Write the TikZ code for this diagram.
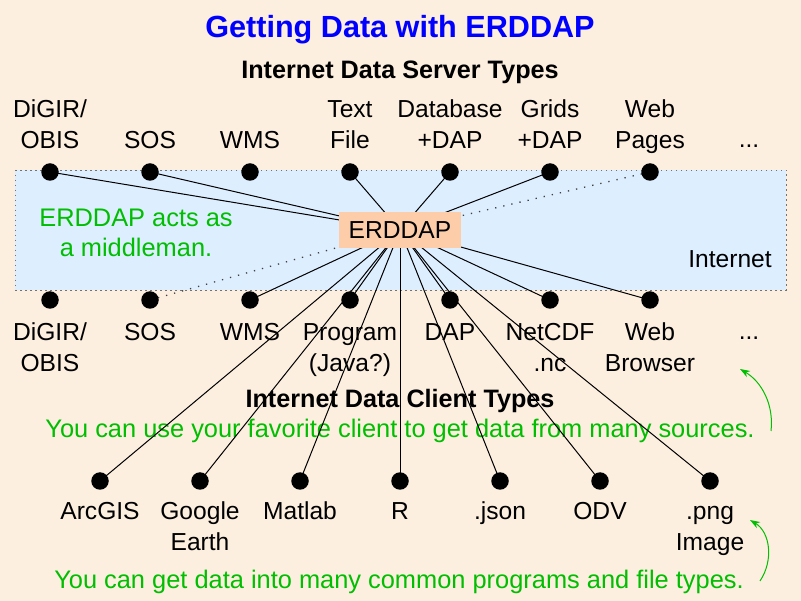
\documentclass[tikz,border=0pt]{standalone}
\usepackage{fontspec}
\setmainfont{Liberation Sans}
\usetikzlibrary{arrows.meta}
\definecolor{bg}{RGB}{253,239,223}
\definecolor{bandc}{RGB}{221,238,255}
\definecolor{boxc}{RGB}{253,205,170}
\definecolor{grn}{RGB}{0,190,0}
\definecolor{ttl}{RGB}{0,0,255}
\begin{document}
\begin{tikzpicture}[x=1pt,y=-1pt,
  dot/.style={circle,fill=black,inner sep=0pt,minimum size=17.5pt},
  lbl/.style={anchor=north,inner sep=0pt,align=center,font=\fontsize{24.6}{31}\selectfont},
  txt/.style={anchor=base,inner sep=0pt,font=\fontsize{24.6}{31}\selectfont},
  link/.style={line width=1pt},
  dotlink/.style={line width=1.3pt,dash pattern=on 1.3pt off 7pt,black!75},
  note/.style={anchor=base,inner sep=0pt,font=\fontsize{25.4}{30}\selectfont,text=grn},
  curv/.style={grn,line width=1pt,-{Stealth[length=10pt,width=7pt]}}
]
\useasboundingbox (0,0) rectangle (801,601);
\fill[bg] (0,0) rectangle (801,601);
% band
\fill[bandc] (15,170) rectangle (786,290);
\draw[black!55,line width=0.8pt,dash pattern=on 1.5pt off 3.5pt] (15,170) rectangle (786,290);

% titles
\node[anchor=base,inner sep=0pt,font=\fontsize{30.6}{36}\selectfont\bfseries,text=ttl] (title) at (400,38) {Getting Data with ERDDAP};
\node[txt,font=\fontsize{25.2}{31}\selectfont\bfseries] (srv) at (400,79) {Internet Data Server Types};
\node[txt,font=\fontsize{25.2}{31}\selectfont\bfseries] (cli) at (400,408) {Internet Data Client Types};
\node[note] (n1) at (400,438) {You can use your favorite client to get data from many sources.};
\node[note] (n2) at (399,588) {You can get data into many common programs and file types.};
\node[note,align=center,anchor=north] (mid) at (136,205.7) {\strut ERDDAP acts as\\a middleman.};
\node[txt] (inet) at (730,268) {Internet};

% top labels
\node[lbl] (lt1) at (50,95.3) {\strut DiGIR/\\OBIS};
\node[lbl] (lt2) at (150,95.3) {\strut\\SOS};
\node[lbl] (lt3) at (250,95.3) {\strut\\WMS};
\node[lbl] (lt4) at (350,95.3) {\strut Text\\File};
\node[lbl] (lt5) at (450,95.3) {\strut Database\\+DAP};
\node[lbl] (lt6) at (550,95.3) {\strut Grids\\+DAP};
\node[lbl] (lt7) at (650,95.3) {\strut Web\\Pages};
\node[txt] (lt8) at (749,148) {...};

% bottom labels row 1
\node[lbl] (lb1) at (50,318.3) {\strut DiGIR/\\OBIS};
\node[lbl] (lb2) at (150,318.3) {\strut SOS};
\node[lbl] (lb3) at (250,318.3) {\strut WMS};
\node[lbl] (lb4) at (350,318.3) {\strut Program\\(Java?)};
\node[lbl] (lb5) at (450,318.3) {\strut DAP};
\node[lbl] (lb6) at (550,318.3) {\strut NetCDF\\.nc};
\node[lbl] (lb7) at (650,318.3) {\strut Web\\Browser};
\node[txt] (lb8) at (749,340) {...};

% bottom labels row 2
\node[lbl] (lc1) at (100,497.8) {\strut ArcGIS};
\node[lbl] (lc2) at (200,497.8) {\strut Google\\Earth};
\node[lbl] (lc3) at (300,497.8) {\strut Matlab};
\node[lbl] (lc4) at (400,497.8) {\strut R};
\node[lbl] (lc5) at (500,497.8) {\strut .json};
\node[lbl] (lc6) at (600,497.8) {\strut ODV};
\node[lbl] (lc7) at (710,497.8) {\strut .png\\Image};

% coordinates
\coordinate (ec) at (400,230);
\foreach \i/\x in {1/50,2/150,3/250,4/350,5/450,6/550,7/650}{
  \coordinate (t\i) at (\x,172);
  \coordinate (b\i) at (\x,300);
}
\foreach \i/\x in {1/100,2/200,3/300,4/400,5/500,6/600,7/710}{
  \coordinate (c\i) at (\x,481);
}

% connectors
\foreach \n in {t1,t2,t4,t5,t6,b3,b4,b5,b6,b7,c1,c2,c3,c4,c5,c6,c7}{
  \draw[link] (\n) -- (ec);
}
\draw[dotlink] (t7) -- (ec);
\draw[dotlink] (b2) -- (ec);

% ERDDAP box
\node[fill=boxc,minimum width=122pt,minimum height=36pt,inner sep=0pt,font=\fontsize{24.6}{31}\selectfont] (erddap) at (ec) {ERDDAP};

% dots
\foreach \n in {t1,t2,t3,t4,t5,t6,t7,b1,b2,b3,b4,b5,b6,b7,c1,c2,c3,c4,c5,c6,c7}{
  \node[dot] (d\n) at (\n) {};
}

% green curved arrows
\coordinate (a1s) at (771,431);
\coordinate (a1e) at (740,369);
\draw[curv] (a1s) .. controls (774,405) and (762,382) .. (a1e);
\coordinate (a2s) at (760,581);
\coordinate (a2e) at (750,520);
\draw[curv] (a2s) .. controls (774,560) and (770,532) .. (a2e);
\end{tikzpicture}
\end{document}
